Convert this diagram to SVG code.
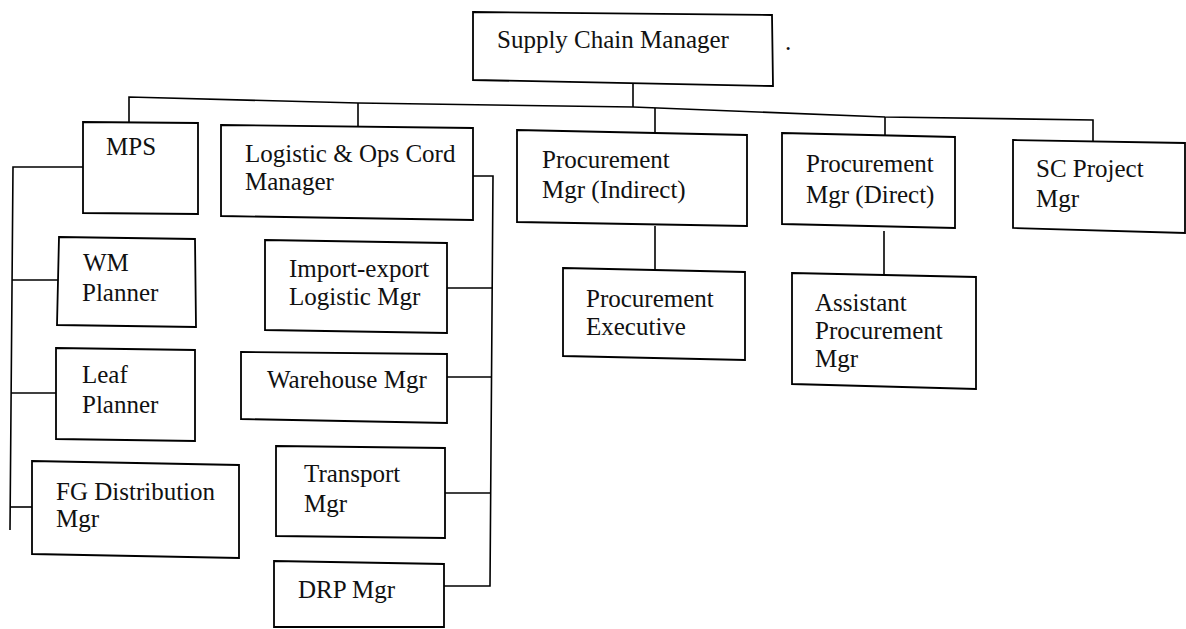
<svg xmlns="http://www.w3.org/2000/svg" width="1186" height="629" viewBox="0 0 1186 629">
  <style>
    .box { fill: #fff; stroke: #000; stroke-width: 1.8; }
    .wire { fill: none; stroke: #000; stroke-width: 1.6; }
    .lbl { font-family: "Liberation Serif", "Times New Roman", serif; font-size: 25px; fill: #111; }
  </style>
  <rect width="1186" height="629" fill="#fff"/>

  <!-- connectors -->
  <g id="connectors">
    <path class="wire" d="M633,84 L633,107"/>
    <polyline class="wire" points="129,122 129,97 358,103 633,107 885,117 1093,120 1093,141"/>
    <path class="wire" d="M358,103 L358,126"/>
    <path class="wire" d="M655,108 L655,132"/>
    <path class="wire" d="M885,117 L885,135"/>
    <path class="wire" d="M655,226 L655,270"/>
    <path class="wire" d="M884,231 L884,275"/>
    <!-- MPS bus -->
    <polyline class="wire" points="83,167 13,167 10,530"/>
    <path class="wire" d="M12,280 L58,280"/>
    <path class="wire" d="M11,393 L56,393"/>
    <path class="wire" d="M10,507 L32,507"/>
    <!-- Logistic bus -->
    <polyline class="wire" points="473,176 493,176 490,586 444,586"/>
    <path class="wire" d="M447,288 L492,288"/>
    <path class="wire" d="M447,377 L492,377"/>
    <path class="wire" d="M445,493 L491,493"/>
  </g>

  <g id="supply-chain-manager">
    <polygon class="box" points="473,12 772,15 773,86 473,80"/>
    <text class="lbl" x="497" y="48">Supply Chain Manager</text>
    <text class="lbl" x="785" y="50">.</text>
  </g>

  <g id="mps">
    <polygon class="box" points="83,122 198,123 198,214 83,213"/>
    <text class="lbl" x="106" y="155">MPS</text>
  </g>

  <g id="logistic-ops">
    <polygon class="box" points="221,125 473,128 473,220 221,216"/>
    <text class="lbl" x="245" y="162">Logistic &amp; Ops Cord</text>
    <text class="lbl" x="245" y="190">Manager</text>
  </g>

  <g id="wm-planner">
    <polygon class="box" points="59,237 195,239 196,327 57,325"/>
    <text class="lbl" x="83" y="271">WM</text>
    <text class="lbl" x="82" y="301">Planner</text>
  </g>

  <g id="leaf-planner">
    <polygon class="box" points="56,348 195,350 195,441 56,439"/>
    <text class="lbl" x="82" y="383">Leaf</text>
    <text class="lbl" x="82" y="413">Planner</text>
  </g>

  <g id="fg-distribution">
    <polygon class="box" points="32,461 239,465 239,558 32,554"/>
    <text class="lbl" x="56" y="500">FG Distribution</text>
    <text class="lbl" x="56" y="527">Mgr</text>
  </g>

  <g id="import-export">
    <polygon class="box" points="265,240 447,243 447,333 265,330"/>
    <text class="lbl" x="289" y="277">Import-export</text>
    <text class="lbl" x="289" y="305">Logistic Mgr</text>
  </g>

  <g id="warehouse">
    <polygon class="box" points="241,352 447,354 447,423 241,419"/>
    <text class="lbl" x="267" y="388">Warehouse Mgr</text>
  </g>

  <g id="transport">
    <polygon class="box" points="276,446 445,448 445,538 276,536"/>
    <text class="lbl" x="304" y="482">Transport</text>
    <text class="lbl" x="304" y="512">Mgr</text>
  </g>

  <g id="drp">
    <polygon class="box" points="274,561 444,564 444,627 274,627"/>
    <text class="lbl" x="298" y="598">DRP Mgr</text>
  </g>

  <g id="procurement-indirect">
    <polygon class="box" points="517,130 747,135 747,226 517,222"/>
    <text class="lbl" x="542" y="168">Procurement</text>
    <text class="lbl" x="542" y="198">Mgr (Indirect)</text>
  </g>

  <g id="procurement-direct">
    <polygon class="box" points="782,133 955,137 955,228 782,224"/>
    <text class="lbl" x="806" y="172">Procurement</text>
    <text class="lbl" x="806" y="203">Mgr (Direct)</text>
  </g>

  <g id="sc-project">
    <polygon class="box" points="1013,140 1185,143 1185,233 1013,228"/>
    <text class="lbl" x="1036" y="177">SC Project</text>
    <text class="lbl" x="1036" y="207">Mgr</text>
  </g>

  <g id="procurement-executive">
    <polygon class="box" points="563,268 745,272 745,360 563,356"/>
    <text class="lbl" x="586" y="307">Procurement</text>
    <text class="lbl" x="586" y="335">Executive</text>
  </g>

  <g id="assistant-procurement">
    <polygon class="box" points="792,273 976,277 976,389 792,384"/>
    <text class="lbl" x="815" y="311">Assistant</text>
    <text class="lbl" x="815" y="339">Procurement</text>
    <text class="lbl" x="815" y="367">Mgr</text>
  </g>
</svg>
